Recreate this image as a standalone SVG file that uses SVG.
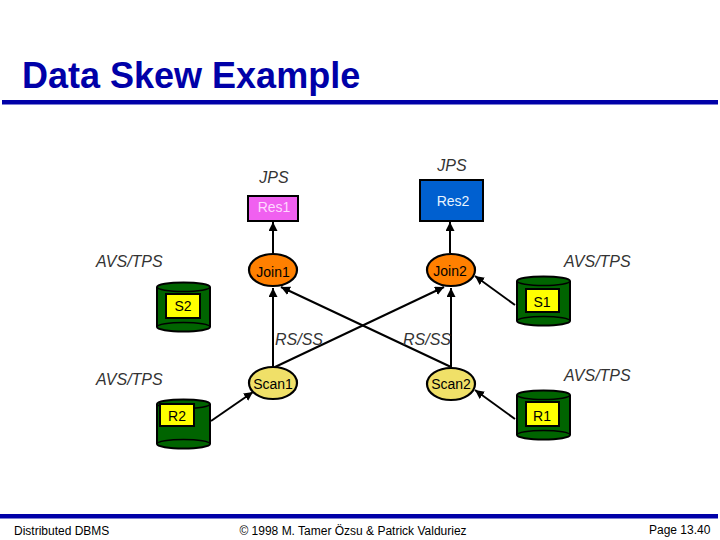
<svg xmlns="http://www.w3.org/2000/svg" width="720" height="540" viewBox="0 0 720 540">
<style>
text{font-family:"Liberation Sans",Arial,sans-serif;font-size:14px;fill:#000}
.c{text-anchor:middle}
.i{font-style:italic;font-size:16px;fill:#333}
.rule{fill:#0000a8}
.e{stroke:#000;stroke-width:2.200;fill:#ff8000}
.s{stroke:#000;stroke-width:2.200;fill:#f0e068}
.body{fill:#006400;stroke:#000;stroke-width:2}
.lab{fill:#ffff00;stroke:#000;stroke-width:2}
.conn{fill:none;stroke:#000;stroke-width:2;marker-end:url(#a)}
</style>
<defs>
<marker id="a" viewBox="0 0 10 10" refX="10" refY="5" markerUnits="userSpaceOnUse" markerWidth="9" markerHeight="9" orient="auto"><path d="M0 0L10 5L0 10z" fill="#000"/></marker>
<g id="cyl">
<path class="body" d="M0 5A26.500 4.500 0 0 1 53 5V45A26.500 4.500 0 0 1 0 45Z"/>
<path d="M0 5A26.500 4.500 0 0 0 53 5M0 45A26.500 4.500 0 0 1 53 45" fill="none" stroke="#000" stroke-width="1.500"/>
</g>
</defs>
<rect width="720" height="540" fill="#fff"/>
<g id="header">
<text x="22" y="88" style="font-size:36px;font-weight:bold;fill:#0000a8">Data Skew Example</text>
<rect class="rule" x="2" y="100" width="716" height="4.500"/>
<rect class="rule" x="0" y="514" width="718" height="4.500"/>
<text x="14" y="535" style="font-size:12px">Distributed DBMS</text>
<text class="c" x="353" y="535" style="font-size:12px">© 1998 M. Tamer Özsu &amp; Patrick Valduriez</text>
<text x="649" y="534" style="font-size:12px">Page 13.40</text>
</g>
<g id="connectors">
<line class="conn" x1="273" y1="254" x2="273" y2="222"/>
<line class="conn" x1="450" y1="253" x2="450" y2="222"/>
<line class="conn" x1="273" y1="367" x2="273" y2="288"/>
<line class="conn" x1="275" y1="367" x2="444" y2="287"/>
<line class="conn" x1="451" y1="367" x2="281" y2="287"/>
<line class="conn" x1="451" y1="367" x2="451" y2="288"/>
<line class="conn" x1="515" y1="305" x2="475" y2="276"/>
<line class="conn" x1="515" y1="419" x2="475" y2="390"/>
<line class="conn" x1="211" y1="421" x2="253" y2="392"/>
</g>
<g id="res1"><rect x="248" y="196" width="50" height="25" fill="#f060f0" stroke="#000" stroke-width="2"/><text class="c" x="274" y="212" style="fill:#ffd8ff">Res1</text></g>
<g id="res2"><rect x="420" y="180" width="63" height="41" fill="#0060d0" stroke="#000" stroke-width="2"/><text class="c" x="453" y="206" style="fill:#e8f4ff">Res2</text></g>
<g id="join1"><ellipse class="e" cx="273" cy="270" rx="24" ry="16"/><text class="c" x="273" y="277">Join1</text></g>
<g id="join2"><ellipse class="e" cx="451" cy="270" rx="24" ry="16"/><text class="c" x="450" y="276">Join2</text></g>
<g id="scan1"><ellipse class="s" cx="273" cy="383" rx="24" ry="16"/><text class="c" x="273" y="389">Scan1</text></g>
<g id="scan2"><ellipse class="s" cx="451" cy="384" rx="24" ry="16"/><text class="c" x="451" y="389">Scan2</text></g>
<g id="s2"><use href="#cyl" x="157" y="282"/><rect class="lab" x="166" y="294" width="34" height="24"/><text class="c" x="183" y="311">S2</text></g>
<g id="s1"><use href="#cyl" x="517" y="276"/><rect class="lab" x="526" y="289" width="33" height="23"/><text class="c" x="542" y="307">S1</text></g>
<g id="r2"><use href="#cyl" x="157" y="399"/><rect class="lab" x="160" y="404" width="34" height="22"/><text class="c" x="177" y="421">R2</text></g>
<g id="r1"><use href="#cyl" x="517" y="390"/><rect class="lab" x="526" y="402" width="33" height="24"/><text class="c" x="542" y="421">R1</text></g>
<g id="labels">
<text class="i c" x="274" y="183">JPS</text>
<text class="i c" x="452" y="171">JPS</text>
<text class="i" x="96" y="267">AVS/TPS</text>
<text class="i" x="96" y="385">AVS/TPS</text>
<text class="i" x="564" y="267">AVS/TPS</text>
<text class="i" x="564" y="381">AVS/TPS</text>
<text class="i" x="275" y="345">RS/SS</text>
<text class="i" x="403" y="345">RS/SS</text>
</g>
</svg>
